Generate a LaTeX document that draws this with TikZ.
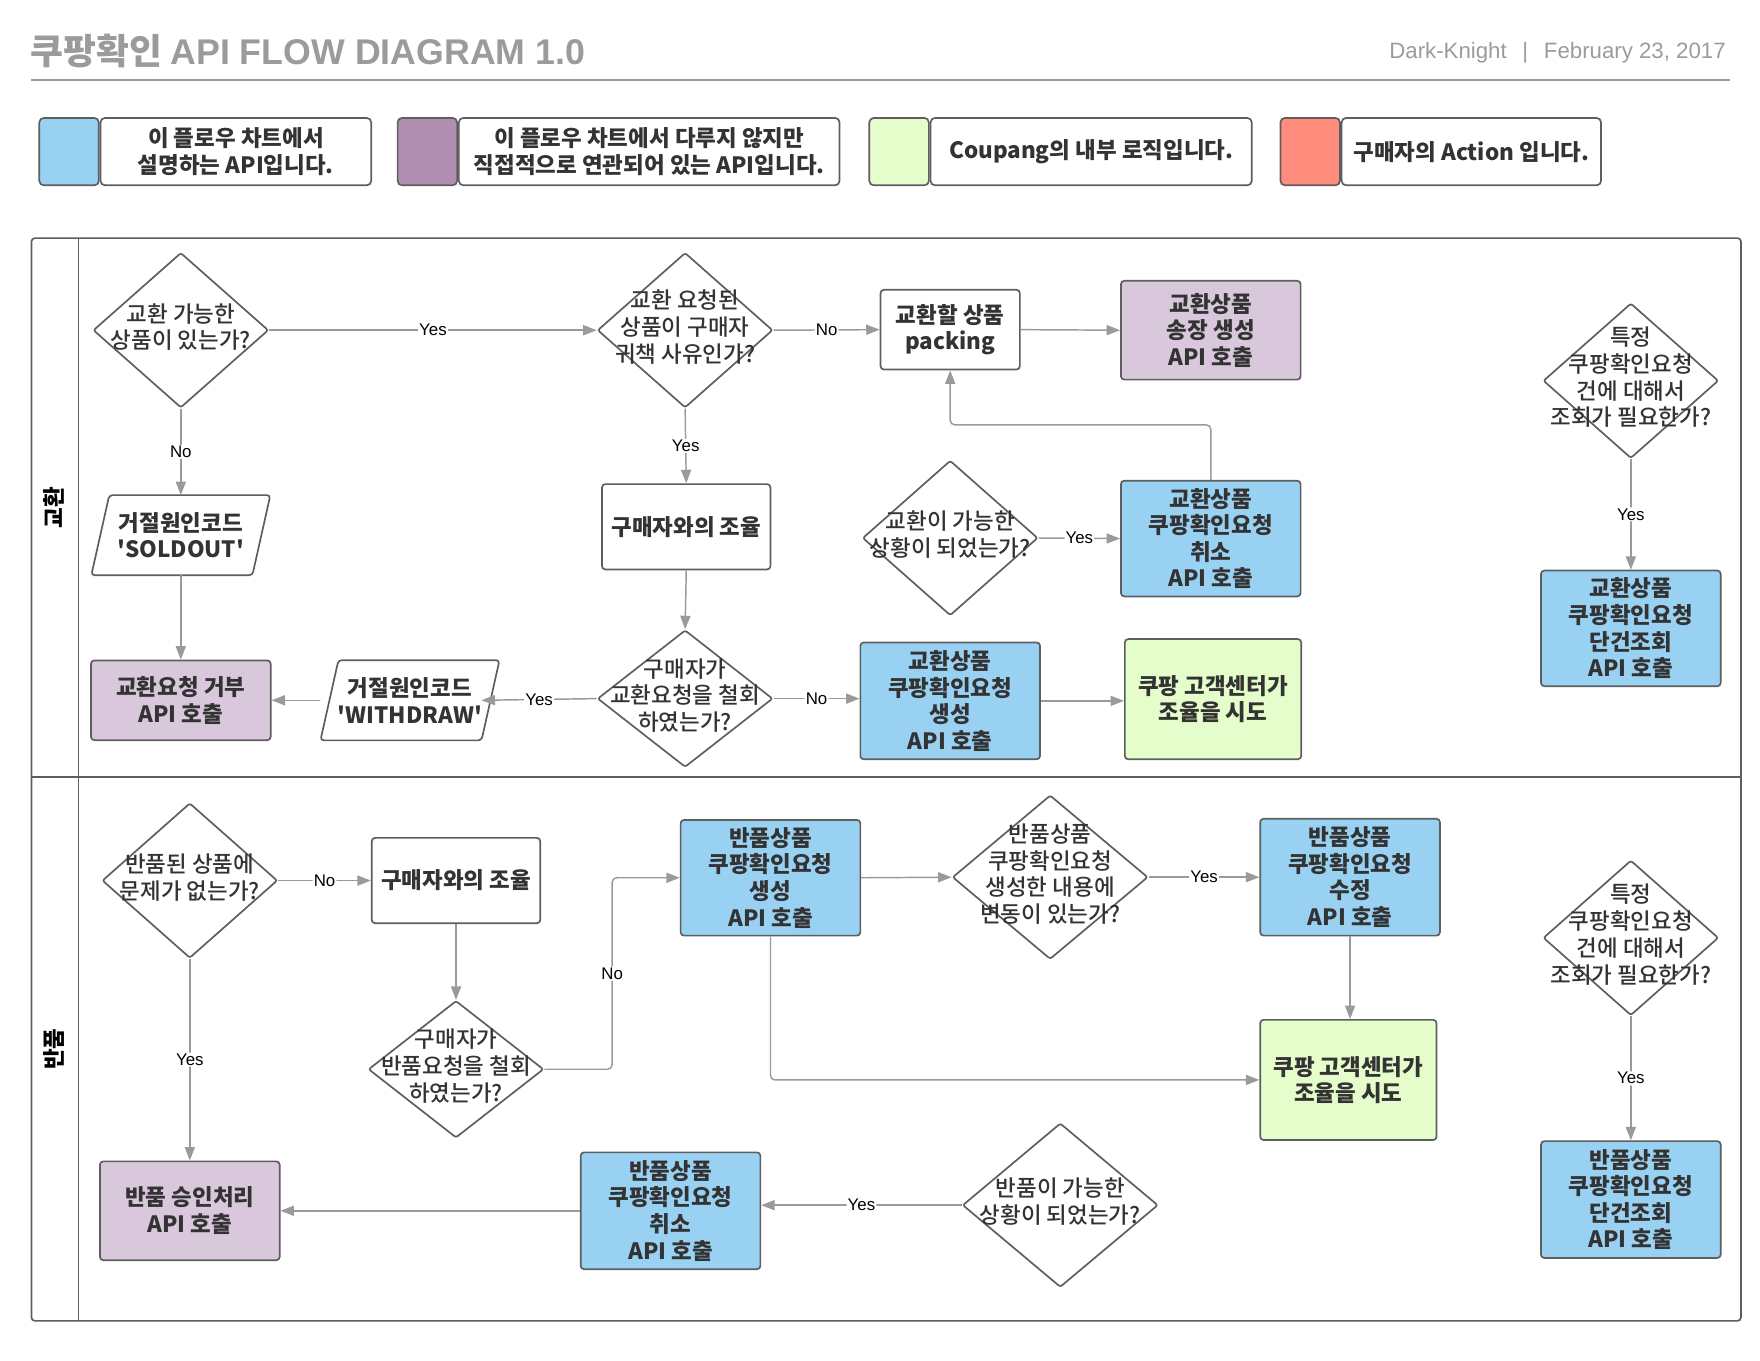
\documentclass[tikz,border=0pt]{standalone}
\usepackage{fontspec}
\setmainfont{Noto Sans CJK KR}
\newfontfamily\latin{Liberation Sans}
\newfontfamily\medfont{Noto Sans CJK KR Medium}
\usetikzlibrary{shapes.geometric,arrows.meta,positioning,calc}

\definecolor{edgec}{HTML}{5E5E5E}
\definecolor{arrowc}{HTML}{9A9A9A}
\definecolor{txtc}{HTML}{333333}
\definecolor{apiblue}{HTML}{99D1F3}
\definecolor{relpurple}{HTML}{B18FB3}
\definecolor{relbox}{HTML}{D9C8DC}
\definecolor{logicgreen}{HTML}{E5FCCB}
\definecolor{buyerred}{HTML}{FF8C7C}
\definecolor{titlegray}{HTML}{9B9B9B}

\newcommand{\dtxt}[1]{\makebox[0pt]{\smash{\raisebox{-5pt}{\begin{tabular}{@{}c@{}}#1\end{tabular}}}}}

\tikzset{
  box/.style={draw=edgec, line width=1.5pt, rounded corners=3pt, align=center, text=txtc,
    font=\fontsize{20}{23.7}\selectfont\bfseries, minimum width=160pt, minimum height=104pt, inner sep=2pt},
  apibox/.style={box, fill=apiblue},
  relbox/.style={box, fill=relbox},
  logicbox/.style={box, fill=logicgreen, minimum width=157pt, minimum height=107pt},
  plainbox/.style={box, fill=white},
  para/.style={align=center, text=txtc, font=\fontsize{20}{23.7}\selectfont\bfseries,
    minimum width=143pt, minimum height=71pt, inner sep=0pt},
  dia/.style={diamond, draw=edgec, line width=1.5pt, rounded corners=2pt, fill=white, text=txtc,
    font=\medfont\fontsize{20}{23.7}\selectfont, minimum width=156pt, minimum height=138pt, inner sep=0pt},
  flow/.style={draw=arrowc, line width=1.3pt, rounded corners=4pt, -{Triangle[length=12pt,width=9pt]}},
  lbl/.style={fill=white, text=black, font=\latin\fontsize{15}{15}\selectfont, inner sep=1pt, midway},
  lane/.style={draw=edgec, line width=1.5pt},
  legsq/.style={draw=edgec, line width=1.5pt, rounded corners=4pt, minimum width=53pt, minimum height=60pt},
  legtxt/.style={draw=edgec, line width=1.5pt, rounded corners=4pt, fill=white, minimum height=60pt,
    align=center, text=txtc, font=\fontsize{20}{23.7}\selectfont\bfseries},
}

\begin{document}
\begin{tikzpicture}[x=1pt,y=-1pt]
  \useasboundingbox (0,0) rectangle (1567,1211);
  %title
	\node[anchor=west, text=titlegray, font=\fontsize{31.8}{32}\selectfont\bfseries] (title) at (24,45)
		{쿠팡확인 {\latin API FLOW DIAGRAM 1.0}};
	\node[anchor=east, text=titlegray, font=\latin\fontsize{19.8}{20}\selectfont] (author) at (1540,47)
		{Dark-Knight\hspace{14pt}|\hspace{14pt}February 23, 2017};
	\draw[titlegray, line width=1.8pt] (28,71) -- (1540,71);

  %legend
	\node[legsq, fill=apiblue] (sqA) at (61.5,135) {};
	\node[legtxt, minimum width=241pt, right=0pt of sqA] (lgA) {이 플로우 차트에서\\설명하는 API입니다.};
	\node[legsq, fill=relpurple] (sqB) at (380.5,135) {};
	\node[legtxt, minimum width=339pt, right=0pt of sqB] (lgB) {이 플로우 차트에서 다루지 않지만\\직접적으로 연관되어 있는 API입니다.};
	\node[legsq, fill=logicgreen] (sqC) at (800.5,135) {};
	\node[legtxt, minimum width=286pt, right=0pt of sqC] (lgC) {Coupang의 내부 로직입니다.};
	\node[legsq, fill=buyerred] (sqD) at (1166.5,135) {};
	\node[legtxt, minimum width=231pt, right=0pt of sqD] (lgD) {구매자의 Action 입니다.};

  %swimlanes
	\draw[lane, rounded corners=3pt] (28,212) rectangle (1550,1176);
	\draw[lane] (70,212) -- (70,1176);
	\draw[lane] (28,692) -- (1550,692);
	\node[rotate=90, text=black, font=\fontsize{20}{20}\selectfont\bfseries] (laneA) at (48,452) {교환};
	\node[rotate=90, text=black, font=\fontsize{20}{20}\selectfont\bfseries] (laneB) at (48,934) {반품};

  %교환 lane
	\node[dia] (dA) at (161,294) {\dtxt{교환 가능한\\상품이 있는가?}};
	\node[dia] (dB) at (610,294) {\dtxt{교환 요청된\\상품이 구매자\\귀책 사유인가?}};
	\node[plainbox, minimum width=124pt, minimum height=71pt] (pack) at (846,293.5) {교환할 상품\\packing};
	\node[relbox, minimum height=88pt] (invA) at (1078,294) {교환상품\\송장 생성\\API 호출};
	\node[para] (sold) at (161,476.5) {거절원인코드\\\textquotesingle SOLDOUT\textquotesingle};
	\node[plainbox, minimum width=150pt, minimum height=76pt] (talkA) at (611,469) {구매자와의 조율};
	\node[dia] (dC) at (846,479) {\dtxt{교환이 가능한\\상황이 되었는가?}};
	\node[apibox, minimum height=103pt] (cancelA) at (1078,479.5) {교환상품\\쿠팡확인요청\\취소\\API 호출};
	\node[relbox, minimum height=71pt] (refuse) at (161,623.5) {교환요청 거부\\API 호출};
	\node[para] (wd) at (365,623.5) {거절원인코드\\\textquotesingle WITHDRAW\textquotesingle};
	\node[dia, minimum height=122pt] (dD) at (610,622) {\dtxt{구매자가\\교환요청을 철회\\하였는가?}};
	\node[apibox] (genA) at (846,624) {교환상품\\쿠팡확인요청\\생성\\API 호출};
	\node[logicbox] (csA) at (1080,622.5) {쿠팡 고객센터가\\조율을 시도};
	\node[dia] (dE) at (1452,339) {\dtxt{특정\\쿠팡확인요청\\건에 대해서\\조회가 필요한가?}};
	\node[apibox, minimum height=103pt] (lookA) at (1452,559.5) {교환상품\\쿠팡확인요청\\단건조회\\API 호출};

  %parallelogram outline
	\foreach \n in {sold,wd}
		\draw[draw=edgec, line width=1.5pt, rounded corners=3pt] ([xshift=8pt]\n.north west) -- ([xshift=8pt]\n.north east)
			-- ([xshift=-8pt]\n.south east) -- ([xshift=-8pt]\n.south west) -- cycle;

	\draw[flow] (dA.east) -- node[lbl]{Yes} (dB.west);
	\draw[flow] (dB.east) -- node[lbl]{No} (pack.west);
	\draw[flow] (pack.east) -- (invA.west);
	\draw[flow] (dA.south) -- node[lbl]{No} (sold.north);
	\draw[flow] (dB.south) -- node[lbl]{Yes} (talkA.north);
	\draw[flow] (dC.east) -- node[lbl]{Yes} (cancelA.west);
	\draw[flow] (cancelA.north) -- ++(0,-49) -| (pack.south);
	\draw[flow] (sold.south) -- (refuse.north);
	\draw[flow] (talkA.south) -- (dD.north);
	\draw[flow] (dD.west) -- node[lbl]{Yes} ([xshift=-8pt]wd.east);
	\draw[flow] ([xshift=-8pt]wd.west) -- (refuse.east);
	\draw[flow] (dD.east) -- node[lbl]{No} (dD.east -| genA.west);
	\draw[flow] (genA.east) -- (genA.east -| csA.west);
	\draw[flow] (dE.south) -- node[lbl]{Yes} (lookA.north);

  %반품 lane
	\node[dia] (dF) at (169,784) {\dtxt{반품된 상품에\\문제가 없는가?}};
	\node[plainbox, minimum width=150pt, minimum height=76pt] (talkB) at (406,784) {구매자와의 조율};
	\node[dia, minimum height=122pt] (dG) at (406,952) {\dtxt{구매자가\\반품요청을 철회\\하였는가?}};
	\node[apibox, minimum height=103pt] (genB) at (686,781.5) {반품상품\\쿠팡확인요청\\생성\\API 호출};
	\node[dia, minimum width=174pt, minimum height=146pt] (dH) at (935,781) {\dtxt{반품상품\\쿠팡확인요청\\생성한 내용에\\변동이 있는가?}};
	\node[apibox] (modB) at (1202,781) {반품상품\\쿠팡확인요청\\수정\\API 호출};
	\node[logicbox] (csB) at (1200.5,961.5) {쿠팡 고객센터가\\조율을 시도};
	\node[dia, minimum width=174pt, minimum height=146pt] (dI) at (944,1073) {\dtxt{반품이 가능한\\상황이 되었는가?}};
	\node[apibox] (cancelB) at (597,1078) {반품상품\\쿠팡확인요청\\취소\\API 호출};
	\node[relbox, minimum height=88pt] (appr) at (169,1078) {반품 승인처리\\API 호출};
	\node[dia] (dJ) at (1452,835) {\dtxt{특정\\쿠팡확인요청\\건에 대해서\\조회가 필요한가?}};
	\node[apibox] (lookB) at (1452,1068) {반품상품\\쿠팡확인요청\\단건조회\\API 호출};

	\draw[flow] (dF.east) -- node[lbl]{No} (talkB.west);
	\draw[flow] (dF.south) -- node[lbl]{Yes} (appr.north);
	\draw[flow] (talkB.south) -- (dG.north);
	\draw[flow] (dG.east) -| ($(dG.east)!.5!(genB.west)$) node[lbl, pos=1]{No} |- (genB.west);
	\draw[flow] (genB.east) -- (dH.west);
	\draw[flow] (dH.east) -- node[lbl]{Yes} (modB.west);
	\draw[flow] (modB.south) -- (modB.south |- csB.north);
	\draw[flow] (genB.south) |- (csB.west);
	\draw[flow] (dI.west) -- node[lbl]{Yes} (dI.west -| cancelB.east);
	\draw[flow] (cancelB.west) -- (appr.east);
	\draw[flow] (dJ.south) -- node[lbl]{Yes} (lookB.north);
\end{tikzpicture}
\end{document}
